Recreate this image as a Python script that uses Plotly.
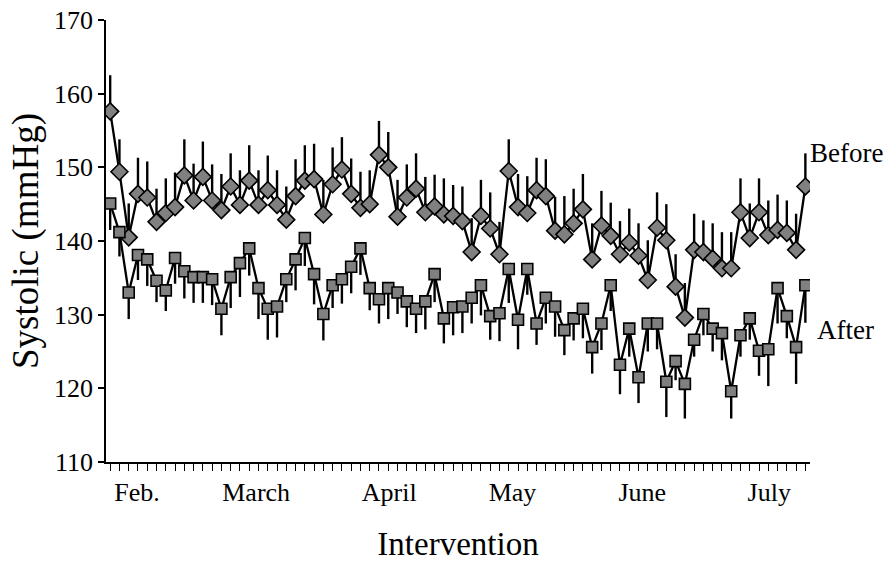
import plotly.graph_objects as go

before = [157.6, 149.4, 140.5, 146.4, 145.9, 142.6, 143.8, 144.6, 148.9, 145.5, 148.7, 145.5,
          144.2, 147.4, 144.9, 148.2, 144.9, 146.9, 144.9, 142.9, 146.1, 148.2, 148.4, 143.6, 147.7,
          149.7, 146.4, 144.5, 145.0, 151.7, 150.0, 143.3, 145.9, 147.1, 143.9, 144.7, 143.6, 143.4,
          142.7, 138.5, 143.4, 141.7, 138.2, 149.5, 144.6, 143.8, 146.9, 146.1, 141.4, 140.9, 142.4,
          144.3, 137.5, 142.1, 140.7, 138.2, 139.8, 138.0, 134.7, 141.8, 140.1, 133.8, 129.6, 138.8,
          138.5, 137.6, 136.3, 136.3, 143.9, 140.4, 143.9, 140.8, 141.5, 141.1, 138.8, 147.4]
before_err = [4.9, 4.4, 4.6, 4.9, 4.9, 4.5, 4.7, 4.7, 4.9, 5.0, 4.8, 4.9,
              4.9, 4.5, 4.7, 4.8, 4.7, 4.7, 4.7, 4.5, 5.0, 4.8, 4.8, 4.7, 5.0,
              4.4, 4.8, 4.9, 4.6, 4.6, 4.8, 5.0, 4.5, 4.8, 4.8, 4.3, 4.9, 4.2,
              4.7, 4.6, 4.9, 4.9, 4.4, 4.3, 4.5, 5.0, 4.4, 5.0, 4.6, 5.2, 4.7,
              4.8, 4.9, 4.7, 4.5, 4.5, 4.6, 4.4, 5.4, 4.8, 4.9, 4.4, 4.7, 4.9,
              4.3, 4.8, 4.9, 4.9, 4.6, 4.7, 4.6, 4.7, 4.8, 4.4, 4.9, 4.5]
after = [145.1, 141.2, 133.0, 138.1, 137.5, 134.6, 133.3, 137.7, 135.9, 135.1, 135.1, 134.8,
         130.8, 135.1, 137.0, 139.0, 133.6, 130.8, 131.1, 134.8, 137.5, 140.4, 135.5, 130.1, 134.0,
         134.8, 136.5, 139.0, 133.6, 132.1, 133.6, 133.0, 131.8, 130.8, 131.8, 135.5, 129.5, 131.0,
         131.1, 132.3, 134.0, 129.8, 130.2, 136.2, 129.3, 136.2, 128.8, 132.3, 131.1, 127.9, 129.5,
         130.8, 125.6, 128.8, 134.0, 123.2, 128.1, 121.5, 128.8, 128.8, 120.9, 123.7, 120.6, 126.6,
         130.1, 128.1, 127.5, 119.6, 127.2, 129.5, 125.1, 125.3, 133.6, 129.8, 125.6, 134.0]
after_err = [3.6, 3.3, 3.6, 3.4, 3.6, 2.9, 2.8, 3.5, 3.7, 3.5, 3.5, 3.5,
             3.6, 4.2, 4.6, 3.7, 4.2, 4.2, 4.2, 3.1, 4.2, 3.8, 4.1, 3.6, 3.1,
             3.3, 3.6, 3.6, 3.0, 3.3, 4.2, 2.9, 3.5, 3.3, 3.8, 3.8, 3.4, 3.8,
             3.6, 3.5, 4.1, 3.2, 3.8, 4.6, 4.0, 3.5, 2.9, 3.5, 4.1, 3.4, 3.0,
             4.0, 3.6, 3.6, 3.5, 4.0, 3.8, 3.5, 3.8, 3.5, 4.8, 2.6, 4.7, 2.3,
             2.9, 3.1, 3.7, 3.7, 2.9, 2.9, 3.4, 5.0, 4.8, 3.0, 5.0, 5.1]
days = list(range(len(before)))

month_labels = ["Feb.", "March", "April", "May", "June", "July"]
month_pos = [2.9, 15.75, 30.1, 43.4, 57.4, 71.1]
y_ticks = [110, 120, 130, 140, 150, 160, 170]

FONT = "Liberation Serif, Times New Roman, serif"
GRAY = "#808080"

fig = go.Figure()
fig.add_trace(go.Scatter(
    x=days, y=before, mode="lines+markers", name="Before",
    line=dict(color="black", width=2.3),
    marker=dict(symbol="diamond", size=13, color=GRAY, line=dict(color="black", width=1.6)),
    error_y=dict(type="data", symmetric=False, array=before_err,
                 arrayminus=[0] * len(before), color="black", thickness=2.4, width=0),
))
fig.add_trace(go.Scatter(
    x=days, y=after, mode="lines+markers", name="After",
    line=dict(color="black", width=2.3),
    marker=dict(symbol="square", size=11, color=GRAY, line=dict(color="black", width=1.6)),
    error_y=dict(type="data", symmetric=False, array=[0] * len(after),
                 arrayminus=after_err, color="black", thickness=2.4, width=0),
))

fig.add_annotation(x=days[-1], y=before[-1] + 4.5, xshift=3, text="Before", showarrow=False,
                   xanchor="left", yanchor="middle", font=dict(family=FONT, size=27, color="black"))
fig.add_annotation(x=days[-1], y=after[-1] - 6.1, xshift=10, text="After", showarrow=False,
                   xanchor="left", yanchor="middle", font=dict(family=FONT, size=27, color="black"))

fig.update_layout(
    width=888, height=562,
    margin=dict(l=106, r=78, t=20, b=100),
    paper_bgcolor="white", plot_bgcolor="white",
    showlegend=False,
    font=dict(family=FONT, color="black"),
    xaxis=dict(
        range=[-0.45, 75.5], automargin=False,
        tickmode="array", tickvals=month_pos, ticktext=month_labels,
        ticks="", tickfont=dict(family=FONT, size=26), ticklabelstandoff=6,
        minor=dict(ticks="outside", tick0=0, dtick=1, ticklen=7, tickcolor="black", tickwidth=1),
        showline=True, linecolor="black", linewidth=1.5,
        showgrid=False, zeroline=False,
        title=dict(text="Intervention", font=dict(family=FONT, size=33), standoff=34),
    ),
    yaxis=dict(
        range=[110, 170], automargin=False,
        tickmode="array", tickvals=y_ticks,
        ticks="outside", ticklen=6, tickcolor="black", tickwidth=1.5,
        tickfont=dict(family=FONT, size=26),
        showline=True, linecolor="black", linewidth=1.5,
        showgrid=False, zeroline=False,
        title=dict(text="Systolic (mmHg)", font=dict(family=FONT, size=37), standoff=4),
    ),
)

fig.write_html("out.html")
